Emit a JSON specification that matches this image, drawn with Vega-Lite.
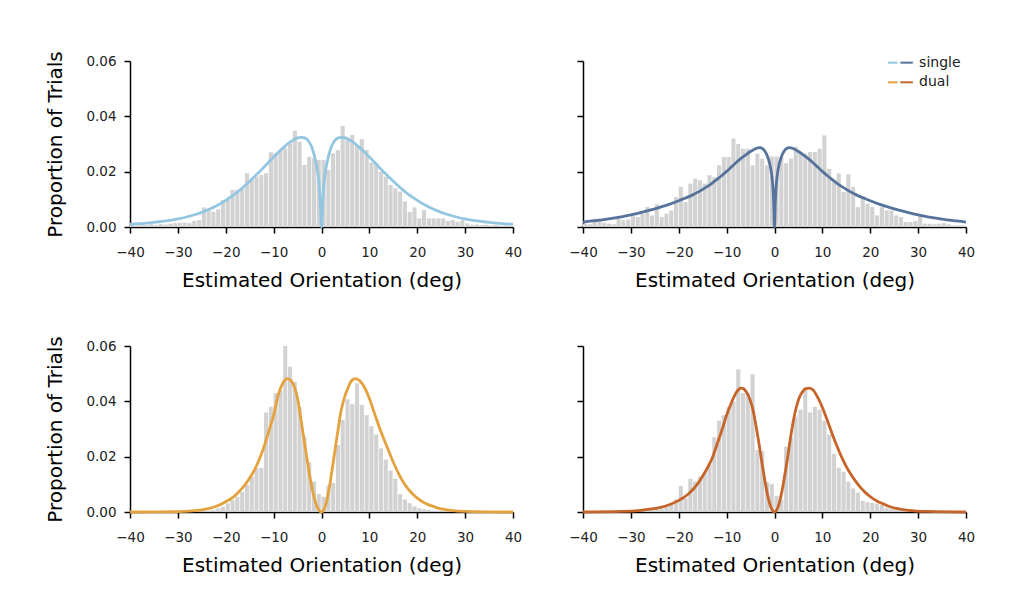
{
  "$schema": "https://vega.github.io/schema/vega-lite/v6.json",
  "background": "white",
  "padding": {"left": 45, "top": 50, "right": 0, "bottom": 0},
  "config": {
    "view": {"stroke": null},
    "font": "DejaVu Sans",
    "axis": {"grid": false, "domainColor": "black", "domainWidth": 1.5, "tickColor": "black", "tickWidth": 1.5, "tickSize": 6, "labelFontSize": 13.5, "labelColor": "#222222", "titleFontSize": 20, "titleFontWeight": "normal", "titleColor": "black", "labelFont": "DejaVu Sans", "titleFont": "DejaVu Sans"}
  },
  "datasets": {
    "hist": [
      {"b": -40, "e": -39, "tl": 0.0008, "tr": 0.0012, "bl": 0, "br": 0},
      {"b": -39, "e": -38, "tl": 0.0006, "tr": 0.001, "bl": 0, "br": 0},
      {"b": -38, "e": -37, "tl": 0.0009, "tr": 0.003, "bl": 0, "br": 0},
      {"b": -37, "e": -36, "tl": 0.0007, "tr": 0.0024, "bl": 0, "br": 0},
      {"b": -36, "e": -35, "tl": 0.001, "tr": 0.0015, "bl": 0, "br": 0},
      {"b": -35, "e": -34, "tl": 0.0008, "tr": 0.0012, "bl": 0, "br": 0},
      {"b": -34, "e": -33, "tl": 0.0011, "tr": 0.001, "bl": 0, "br": 0},
      {"b": -33, "e": -32, "tl": 0.0009, "tr": 0.003, "bl": 0, "br": 0},
      {"b": -32, "e": -31, "tl": 0.0012, "tr": 0.0024, "bl": 0, "br": 0},
      {"b": -31, "e": -30, "tl": 0.0014, "tr": 0.0027, "bl": 0, "br": 0},
      {"b": -30, "e": -29, "tl": 0.0015, "tr": 0.0039, "bl": 0, "br": 0},
      {"b": -29, "e": -28, "tl": 0.0016, "tr": 0.0036, "bl": 0, "br": 0},
      {"b": -28, "e": -27, "tl": 0.0014, "tr": 0.0048, "bl": 0, "br": 0},
      {"b": -27, "e": -26, "tl": 0.0023, "tr": 0.0072, "bl": 0, "br": 0.0005},
      {"b": -26, "e": -25, "tl": 0.0025, "tr": 0.0042, "bl": 0.0003, "br": 0.0015},
      {"b": -25, "e": -24, "tl": 0.0071, "tr": 0.0082, "bl": 0.0004, "br": 0.0015},
      {"b": -24, "e": -23, "tl": 0.006, "tr": 0.0036, "bl": 0.0005, "br": 0.0012},
      {"b": -23, "e": -22, "tl": 0.0055, "tr": 0.0048, "bl": 0.0007, "br": 0.002},
      {"b": -22, "e": -21, "tl": 0.0064, "tr": 0.006, "bl": 0.0013, "br": 0.0028},
      {"b": -21, "e": -20, "tl": 0.0098, "tr": 0.0108, "bl": 0.0019, "br": 0.0045},
      {"b": -20, "e": -19, "tl": 0.0098, "tr": 0.0145, "bl": 0.0031, "br": 0.0094},
      {"b": -19, "e": -18, "tl": 0.0134, "tr": 0.009, "bl": 0.0043, "br": 0.005},
      {"b": -18, "e": -17, "tl": 0.0134, "tr": 0.0157, "bl": 0.0055, "br": 0.012},
      {"b": -17, "e": -16, "tl": 0.014, "tr": 0.0175, "bl": 0.0073, "br": 0.011},
      {"b": -16, "e": -15, "tl": 0.0194, "tr": 0.0169, "bl": 0.0098, "br": 0.0128},
      {"b": -15, "e": -14, "tl": 0.017, "tr": 0.0157, "bl": 0.0128, "br": 0.0142},
      {"b": -14, "e": -13, "tl": 0.0182, "tr": 0.0187, "bl": 0.0158, "br": 0.0176},
      {"b": -13, "e": -12, "tl": 0.0188, "tr": 0.018, "bl": 0.016, "br": 0.027},
      {"b": -12, "e": -11, "tl": 0.0194, "tr": 0.0223, "bl": 0.036, "br": 0.033},
      {"b": -11, "e": -10, "tl": 0.027, "tr": 0.0253, "bl": 0.038, "br": 0.035},
      {"b": -10, "e": -9, "tl": 0.0266, "tr": 0.0253, "bl": 0.043, "br": 0.038},
      {"b": -9, "e": -8, "tl": 0.0278, "tr": 0.032, "bl": 0.044, "br": 0.04},
      {"b": -8, "e": -7, "tl": 0.0284, "tr": 0.03, "bl": 0.06, "br": 0.0516},
      {"b": -7, "e": -6, "tl": 0.0302, "tr": 0.0283, "bl": 0.0525, "br": 0.043},
      {"b": -6, "e": -5, "tl": 0.0348, "tr": 0.0283, "bl": 0.047, "br": 0.043},
      {"b": -5, "e": -4, "tl": 0.0308, "tr": 0.0223, "bl": 0.038, "br": 0.0498},
      {"b": -4, "e": -3, "tl": 0.0224, "tr": 0.0265, "bl": 0.0272, "br": 0.0224},
      {"b": -3, "e": -2, "tl": 0.0254, "tr": 0.0247, "bl": 0.018, "br": 0.022},
      {"b": -2, "e": -1, "tl": 0.0248, "tr": 0.0223, "bl": 0.011, "br": 0.0108},
      {"b": -1, "e": 0, "tl": 0.0242, "tr": 0.0255, "bl": 0.0065, "br": 0.0102},
      {"b": 0, "e": 1, "tl": 0.0242, "tr": 0.0255, "bl": 0.0055, "br": 0.0058},
      {"b": 1, "e": 2, "tl": 0.0206, "tr": 0.0253, "bl": 0.0095, "br": 0.0045},
      {"b": 2, "e": 3, "tl": 0.0266, "tr": 0.0231, "bl": 0.0105, "br": 0.0236},
      {"b": 3, "e": 4, "tl": 0.0278, "tr": 0.0247, "bl": 0.0242, "br": 0.027},
      {"b": 4, "e": 5, "tl": 0.0365, "tr": 0.029, "bl": 0.0333, "br": 0.0345},
      {"b": 5, "e": 6, "tl": 0.0314, "tr": 0.0271, "bl": 0.0407, "br": 0.037},
      {"b": 6, "e": 7, "tl": 0.0333, "tr": 0.0265, "bl": 0.039, "br": 0.0445},
      {"b": 7, "e": 8, "tl": 0.0296, "tr": 0.0271, "bl": 0.0465, "br": 0.036},
      {"b": 8, "e": 9, "tl": 0.0317, "tr": 0.0271, "bl": 0.0387, "br": 0.038},
      {"b": 9, "e": 10, "tl": 0.0278, "tr": 0.0283, "bl": 0.035, "br": 0.037},
      {"b": 10, "e": 11, "tl": 0.0233, "tr": 0.0331, "bl": 0.031, "br": 0.033},
      {"b": 11, "e": 12, "tl": 0.023, "tr": 0.021, "bl": 0.028, "br": 0.028},
      {"b": 12, "e": 13, "tl": 0.02, "tr": 0.0169, "bl": 0.023, "br": 0.021},
      {"b": 13, "e": 14, "tl": 0.0182, "tr": 0.0193, "bl": 0.019, "br": 0.016},
      {"b": 14, "e": 15, "tl": 0.0152, "tr": 0.0127, "bl": 0.015, "br": 0.0145},
      {"b": 15, "e": 16, "tl": 0.014, "tr": 0.019, "bl": 0.012, "br": 0.011},
      {"b": 16, "e": 17, "tl": 0.0128, "tr": 0.0145, "bl": 0.0065, "br": 0.0085},
      {"b": 17, "e": 18, "tl": 0.0092, "tr": 0.0072, "bl": 0.0045, "br": 0.007},
      {"b": 18, "e": 19, "tl": 0.0055, "tr": 0.0108, "bl": 0.0032, "br": 0.004},
      {"b": 19, "e": 20, "tl": 0.0071, "tr": 0.0084, "bl": 0.002, "br": 0.0035},
      {"b": 20, "e": 21, "tl": 0.0031, "tr": 0.0072, "bl": 0.0013, "br": 0.0033},
      {"b": 21, "e": 22, "tl": 0.0061, "tr": 0.0042, "bl": 0.001, "br": 0.003},
      {"b": 22, "e": 23, "tl": 0.0031, "tr": 0.0072, "bl": 0.0008, "br": 0.0025},
      {"b": 23, "e": 24, "tl": 0.0031, "tr": 0.006, "bl": 0.0005, "br": 0.0015},
      {"b": 24, "e": 25, "tl": 0.0031, "tr": 0.006, "bl": 0.0004, "br": 0.0012},
      {"b": 25, "e": 26, "tl": 0.0031, "tr": 0.0042, "bl": 0.0003, "br": 0.0008},
      {"b": 26, "e": 27, "tl": 0.0022, "tr": 0.0036, "bl": 0.0002, "br": 0.0007},
      {"b": 27, "e": 28, "tl": 0.0025, "tr": 0.0018, "bl": 0.0006, "br": 0.0006},
      {"b": 28, "e": 29, "tl": 0.0019, "tr": 0.0018, "bl": 0, "br": 0.0004},
      {"b": 29, "e": 30, "tl": 0.0025, "tr": 0.0022, "bl": 0, "br": 0.0003},
      {"b": 30, "e": 31, "tl": 0.0013, "tr": 0.004, "bl": 0, "br": 0.0002},
      {"b": 31, "e": 32, "tl": 0.0008, "tr": 0.0012, "bl": 0, "br": 0},
      {"b": 32, "e": 33, "tl": 0.0009, "tr": 0.0012, "bl": 0, "br": 0},
      {"b": 33, "e": 34, "tl": 0.0007, "tr": 0.001, "bl": 0, "br": 0},
      {"b": 34, "e": 35, "tl": 0.0008, "tr": 0.0012, "bl": 0, "br": 0},
      {"b": 35, "e": 36, "tl": 0.0006, "tr": 0.0014, "bl": 0, "br": 0},
      {"b": 36, "e": 37, "tl": 0.0007, "tr": 0.001, "bl": 0, "br": 0},
      {"b": 37, "e": 38, "tl": 0.0005, "tr": 0.0006, "bl": 0, "br": 0},
      {"b": 38, "e": 39, "tl": 0.0006, "tr": 0.0006, "bl": 0, "br": 0},
      {"b": 39, "e": 40, "tl": 0.0004, "tr": 0.0006, "bl": 0, "br": 0}
    ],
    "c_tl": [
      {"x": -40, "y": 0.001}, {"x": -38, "y": 0.0012}, {"x": -36, "y": 0.0015}, {"x": -34, "y": 0.0019}, {"x": -32, "y": 0.0023}, {"x": -30, "y": 0.0029}, {"x": -28, "y": 0.0037}, {"x": -26, "y": 0.0047}, {"x": -24, "y": 0.006}, {"x": -22, "y": 0.0076}, {"x": -20, "y": 0.0096}, {"x": -19, "y": 0.0108}, {"x": -18, "y": 0.012}, {"x": -17, "y": 0.0134}, {"x": -16, "y": 0.0149}, {"x": -15, "y": 0.0165}, {"x": -14, "y": 0.0182}, {"x": -13, "y": 0.0199}, {"x": -12, "y": 0.0217}, {"x": -11, "y": 0.0235}, {"x": -10, "y": 0.0253}, {"x": -9, "y": 0.027}, {"x": -8, "y": 0.0286}, {"x": -7, "y": 0.0301}, {"x": -6, "y": 0.0313}, {"x": -5, "y": 0.0322}, {"x": -4.2, "y": 0.0324}, {"x": -3.5, "y": 0.0322}, {"x": -3, "y": 0.0316}, {"x": -2.5, "y": 0.0305}, {"x": -2, "y": 0.0287}, {"x": -1.5, "y": 0.0258}, {"x": -1, "y": 0.0218}, {"x": -0.5, "y": 0.0155}, {"x": -0.25, "y": 0.009}, {"x": 0, "y": 0},
      {"x": 0.25, "y": 0.009}, {"x": 0.5, "y": 0.0155}, {"x": 1, "y": 0.0218}, {"x": 1.5, "y": 0.0258}, {"x": 2, "y": 0.0287}, {"x": 2.5, "y": 0.0305}, {"x": 3, "y": 0.0316}, {"x": 3.5, "y": 0.0322}, {"x": 4.2, "y": 0.0324}, {"x": 5, "y": 0.0322}, {"x": 6, "y": 0.0313}, {"x": 7, "y": 0.0301}, {"x": 8, "y": 0.0286}, {"x": 9, "y": 0.027}, {"x": 10, "y": 0.0253}, {"x": 11, "y": 0.0235}, {"x": 12, "y": 0.0217}, {"x": 13, "y": 0.0199}, {"x": 14, "y": 0.0182}, {"x": 15, "y": 0.0165}, {"x": 16, "y": 0.0149}, {"x": 17, "y": 0.0134}, {"x": 18, "y": 0.012}, {"x": 19, "y": 0.0108}, {"x": 20, "y": 0.0096}, {"x": 22, "y": 0.0076}, {"x": 24, "y": 0.006}, {"x": 26, "y": 0.0047}, {"x": 28, "y": 0.0037}, {"x": 30, "y": 0.0029}, {"x": 32, "y": 0.0023}, {"x": 34, "y": 0.0019}, {"x": 36, "y": 0.0015}, {"x": 38, "y": 0.0012}, {"x": 40, "y": 0.001}
    ],
    "c_tr": [
      {"x": -40, "y": 0.0018}, {"x": -38, "y": 0.0022}, {"x": -36, "y": 0.0026}, {"x": -34, "y": 0.0031}, {"x": -32, "y": 0.0037}, {"x": -30, "y": 0.0044}, {"x": -28, "y": 0.0052}, {"x": -26, "y": 0.0061}, {"x": -24, "y": 0.0071}, {"x": -22, "y": 0.0082}, {"x": -20, "y": 0.0095}, {"x": -19, "y": 0.0102}, {"x": -18, "y": 0.0109}, {"x": -17, "y": 0.0117}, {"x": -16, "y": 0.0126}, {"x": -15, "y": 0.0136}, {"x": -14, "y": 0.0147}, {"x": -13, "y": 0.0159}, {"x": -12, "y": 0.0172}, {"x": -11, "y": 0.0186}, {"x": -10, "y": 0.0201}, {"x": -9, "y": 0.0217}, {"x": -8, "y": 0.0233}, {"x": -7, "y": 0.0248}, {"x": -6, "y": 0.0261}, {"x": -5, "y": 0.0273}, {"x": -4, "y": 0.0283}, {"x": -3, "y": 0.0287}, {"x": -2.5, "y": 0.0283}, {"x": -2, "y": 0.0274}, {"x": -1.5, "y": 0.0257}, {"x": -1, "y": 0.0228}, {"x": -0.6, "y": 0.019}, {"x": -0.3, "y": 0.0135}, {"x": -0.15, "y": 0.008}, {"x": 0, "y": 0},
      {"x": 0.15, "y": 0.008}, {"x": 0.3, "y": 0.0135}, {"x": 0.6, "y": 0.019}, {"x": 1, "y": 0.0228}, {"x": 1.5, "y": 0.0257}, {"x": 2, "y": 0.0274}, {"x": 2.5, "y": 0.0283}, {"x": 3, "y": 0.0287}, {"x": 4, "y": 0.0283}, {"x": 5, "y": 0.0273}, {"x": 6, "y": 0.0261}, {"x": 7, "y": 0.0248}, {"x": 8, "y": 0.0233}, {"x": 9, "y": 0.0217}, {"x": 10, "y": 0.0201}, {"x": 11, "y": 0.0186}, {"x": 12, "y": 0.0172}, {"x": 13, "y": 0.0159}, {"x": 14, "y": 0.0147}, {"x": 15, "y": 0.0136}, {"x": 16, "y": 0.0126}, {"x": 17, "y": 0.0117}, {"x": 18, "y": 0.0109}, {"x": 19, "y": 0.0102}, {"x": 20, "y": 0.0095}, {"x": 22, "y": 0.0082}, {"x": 24, "y": 0.0071}, {"x": 26, "y": 0.0061}, {"x": 28, "y": 0.0052}, {"x": 30, "y": 0.0044}, {"x": 32, "y": 0.0037}, {"x": 34, "y": 0.0031}, {"x": 36, "y": 0.0026}, {"x": 38, "y": 0.0022}, {"x": 40, "y": 0.0018}
    ],
    "c_bl": [
      {"x": -40, "y": 0}, {"x": -35, "y": 0.00003}, {"x": -30, "y": 0.0001}, {"x": -27, "y": 0.0004}, {"x": -25, "y": 0.0008}, {"x": -24, "y": 0.0011}, {"x": -23, "y": 0.0015}, {"x": -22, "y": 0.0021}, {"x": -21, "y": 0.0028}, {"x": -20, "y": 0.0037}, {"x": -19, "y": 0.0047}, {"x": -18, "y": 0.006}, {"x": -17, "y": 0.0078}, {"x": -16, "y": 0.0098}, {"x": -15, "y": 0.0123}, {"x": -14, "y": 0.0152}, {"x": -13, "y": 0.019}, {"x": -12, "y": 0.0237}, {"x": -11, "y": 0.0292}, {"x": -10, "y": 0.035}, {"x": -9, "y": 0.0425}, {"x": -8, "y": 0.0468}, {"x": -7.2, "y": 0.0482}, {"x": -6.5, "y": 0.0477}, {"x": -6, "y": 0.0465}, {"x": -5.5, "y": 0.0443}, {"x": -5, "y": 0.041}, {"x": -4.5, "y": 0.0358}, {"x": -4, "y": 0.0302}, {"x": -3.5, "y": 0.0245}, {"x": -3, "y": 0.019}, {"x": -2.5, "y": 0.0135}, {"x": -2, "y": 0.0088}, {"x": -1.5, "y": 0.005}, {"x": -1, "y": 0.0022}, {"x": -0.5, "y": 0.0006}, {"x": 0, "y": 0},
      {"x": 0.5, "y": 0.0008}, {"x": 1, "y": 0.0035}, {"x": 1.5, "y": 0.0075}, {"x": 2, "y": 0.0128}, {"x": 2.5, "y": 0.0185}, {"x": 3, "y": 0.0245}, {"x": 3.5, "y": 0.0302}, {"x": 4, "y": 0.0358}, {"x": 4.5, "y": 0.0395}, {"x": 5, "y": 0.0425}, {"x": 5.5, "y": 0.0447}, {"x": 6, "y": 0.0467}, {"x": 6.5, "y": 0.0478}, {"x": 7.2, "y": 0.0482}, {"x": 8, "y": 0.0474}, {"x": 9, "y": 0.045}, {"x": 10, "y": 0.041}, {"x": 11, "y": 0.036}, {"x": 12, "y": 0.031}, {"x": 13, "y": 0.0265}, {"x": 14, "y": 0.0222}, {"x": 15, "y": 0.018}, {"x": 16, "y": 0.0142}, {"x": 17, "y": 0.011}, {"x": 18, "y": 0.0085}, {"x": 19, "y": 0.0066}, {"x": 20, "y": 0.005}, {"x": 21, "y": 0.0038}, {"x": 22, "y": 0.0029}, {"x": 23, "y": 0.0022}, {"x": 24, "y": 0.0016}, {"x": 25, "y": 0.0011}, {"x": 27, "y": 0.0006}, {"x": 30, "y": 0.0002}, {"x": 35, "y": 0.00005}, {"x": 40, "y": 0}
    ],
    "c_br": [
      {"x": -40, "y": 0}, {"x": -32, "y": 0.0002}, {"x": -28, "y": 0.0006}, {"x": -26, "y": 0.001}, {"x": -24, "y": 0.0016}, {"x": -22, "y": 0.0026}, {"x": -20, "y": 0.0042}, {"x": -19, "y": 0.0052}, {"x": -18, "y": 0.0065}, {"x": -17, "y": 0.0082}, {"x": -16, "y": 0.0103}, {"x": -15, "y": 0.013}, {"x": -14, "y": 0.016}, {"x": -13, "y": 0.0195}, {"x": -12, "y": 0.0245}, {"x": -11, "y": 0.0295}, {"x": -10, "y": 0.035}, {"x": -9, "y": 0.0395}, {"x": -8, "y": 0.0432}, {"x": -7, "y": 0.0448}, {"x": -6.5, "y": 0.0446}, {"x": -6, "y": 0.0437}, {"x": -5.5, "y": 0.0422}, {"x": -5, "y": 0.04}, {"x": -4.5, "y": 0.037}, {"x": -4, "y": 0.0325}, {"x": -3.5, "y": 0.0275}, {"x": -3, "y": 0.022}, {"x": -2.5, "y": 0.0165}, {"x": -2, "y": 0.0112}, {"x": -1.5, "y": 0.0066}, {"x": -1, "y": 0.003}, {"x": -0.5, "y": 0.0008}, {"x": 0, "y": 0},
      {"x": 0.5, "y": 0.0008}, {"x": 1, "y": 0.0032}, {"x": 1.5, "y": 0.007}, {"x": 2, "y": 0.0118}, {"x": 2.5, "y": 0.017}, {"x": 3, "y": 0.0228}, {"x": 3.5, "y": 0.0285}, {"x": 4, "y": 0.0335}, {"x": 4.5, "y": 0.0375}, {"x": 5, "y": 0.0405}, {"x": 5.5, "y": 0.0425}, {"x": 6, "y": 0.0438}, {"x": 6.5, "y": 0.0446}, {"x": 7.2, "y": 0.0448}, {"x": 8, "y": 0.0442}, {"x": 9, "y": 0.0415}, {"x": 10, "y": 0.0378}, {"x": 11, "y": 0.0333}, {"x": 12, "y": 0.0285}, {"x": 13, "y": 0.024}, {"x": 14, "y": 0.0199}, {"x": 15, "y": 0.0164}, {"x": 16, "y": 0.0135}, {"x": 17, "y": 0.011}, {"x": 18, "y": 0.0088}, {"x": 19, "y": 0.007}, {"x": 20, "y": 0.0056}, {"x": 21, "y": 0.0044}, {"x": 22, "y": 0.0034}, {"x": 23, "y": 0.0027}, {"x": 24, "y": 0.002}, {"x": 26, "y": 0.0011}, {"x": 28, "y": 0.0006}, {"x": 32, "y": 0.0002}, {"x": 40, "y": 0}
    ],
    "leg_lines": [
      {"s": "single_a", "x": 23.7, "x2": 25.7, "y": 0.0594},
      {"s": "single_b", "x": 26.3, "x2": 28.9, "y": 0.0594},
      {"s": "dual_a", "x": 23.7, "x2": 25.7, "y": 0.0523},
      {"s": "dual_b", "x": 26.3, "x2": 28.9, "y": 0.0523}
    ],
    "leg_text": [
      {"t": "single", "x": 30.2, "y": 0.0594},
      {"t": "dual", "x": 30.2, "y": 0.0523}
    ]
  },
  "spacing": 44,
  "vconcat": [
    {
      "spacing": 46,
      "hconcat": [
        {
          "width": 383, "height": 166,
          "layer": [
            {
              "data": {"name": "hist"},
              "mark": {"type": "bar", "color": "#d2d2d2", "x2Offset": -0.7},
              "encoding": {
                "x": {"field": "b", "type": "quantitative", "scale": {"domain": [-40, 40], "nice": false}, "axis": {"title": "Estimated Orientation (deg)", "values": [-40, -30, -20, -10, 0, 10, 20, 30, 40], "labelFlush": false, "labelPadding": 12, "titlePadding": 12}},
                "x2": {"field": "e"},
                "y": {"field": "tl", "type": "quantitative", "scale": {"domain": [0, 0.06], "nice": false}, "axis": {"title": "Proportion of Trials", "values": [0, 0.02, 0.04, 0.06], "format": ".2f", "labelPadding": 8, "titlePadding": 20}},
                "y2": {"datum": 0}
              }
            },
            {
              "data": {"name": "c_tl"},
              "mark": {"type": "line", "color": "#93c6e0", "strokeWidth": 2.8, "interpolate": "monotone"},
              "encoding": {
                "x": {"field": "x", "type": "quantitative", "scale": {"domain": [-40, 40], "nice": false}, "axis": {"title": "Estimated Orientation (deg)", "values": [-40, -30, -20, -10, 0, 10, 20, 30, 40], "labelFlush": false, "labelPadding": 12, "titlePadding": 12}},
                "y": {"field": "y", "type": "quantitative", "scale": {"domain": [0, 0.06], "nice": false}, "axis": {"title": "Proportion of Trials", "values": [0, 0.02, 0.04, 0.06], "format": ".2f", "labelPadding": 8, "titlePadding": 20}}
              }
            }
          ]
        },
        {
          "width": 383, "height": 166,
          "layer": [
            {
              "data": {"name": "hist"},
              "mark": {"type": "bar", "color": "#d2d2d2", "x2Offset": -0.7},
              "encoding": {
                "x": {"field": "b", "type": "quantitative", "scale": {"domain": [-40, 40], "nice": false}, "axis": {"title": "Estimated Orientation (deg)", "values": [-40, -30, -20, -10, 0, 10, 20, 30, 40], "labelFlush": false, "labelPadding": 12, "titlePadding": 12}},
                "x2": {"field": "e"},
                "y": {"field": "tr", "type": "quantitative", "scale": {"domain": [0, 0.06], "nice": false}, "axis": {"values": [0, 0.02, 0.04, 0.06], "labels": false, "title": ""}},
                "y2": {"datum": 0}
              }
            },
            {
              "data": {"name": "c_tr"},
              "mark": {"type": "line", "color": "#56739b", "strokeWidth": 2.8, "interpolate": "monotone"},
              "encoding": {
                "x": {"field": "x", "type": "quantitative", "scale": {"domain": [-40, 40], "nice": false}, "axis": {"title": "Estimated Orientation (deg)", "values": [-40, -30, -20, -10, 0, 10, 20, 30, 40], "labelFlush": false, "labelPadding": 12, "titlePadding": 12}},
                "y": {"field": "y", "type": "quantitative", "scale": {"domain": [0, 0.06], "nice": false}, "axis": {"values": [0, 0.02, 0.04, 0.06], "labels": false, "title": ""}}
              }
            },
            {
              "data": {"name": "leg_lines"},
              "mark": {"type": "rule", "strokeWidth": 2},
              "encoding": {
                "x": {"field": "x", "type": "quantitative", "scale": {"domain": [-40, 40], "nice": false}, "axis": {"title": "Estimated Orientation (deg)", "values": [-40, -30, -20, -10, 0, 10, 20, 30, 40], "labelFlush": false, "labelPadding": 12, "titlePadding": 12}},
                "x2": {"field": "x2"},
                "y": {"field": "y", "type": "quantitative", "scale": {"domain": [0, 0.06], "nice": false}, "axis": {"values": [0, 0.02, 0.04, 0.06], "labels": false, "title": ""}},
                "color": {"field": "s", "type": "nominal", "scale": {"domain": ["single_a", "single_b", "dual_a", "dual_b"], "range": ["#93c6e0", "#56739b", "#e4a23e", "#c6642a"]}, "legend": null}
              }
            },
            {
              "data": {"name": "leg_text"},
              "mark": {"type": "text", "align": "left", "baseline": "middle", "fontSize": 14, "font": "DejaVu Sans", "color": "#222222"},
              "encoding": {
                "x": {"field": "x", "type": "quantitative", "scale": {"domain": [-40, 40], "nice": false}, "axis": {"title": "Estimated Orientation (deg)", "values": [-40, -30, -20, -10, 0, 10, 20, 30, 40], "labelFlush": false, "labelPadding": 12, "titlePadding": 12}},
                "y": {"field": "y", "type": "quantitative", "scale": {"domain": [0, 0.06], "nice": false}, "axis": {"values": [0, 0.02, 0.04, 0.06], "labels": false, "title": ""}},
                "text": {"field": "t"}
              }
            }
          ]
        }
      ]
    },
    {
      "spacing": 46,
      "hconcat": [
        {
          "width": 383, "height": 166,
          "layer": [
            {
              "data": {"name": "hist"},
              "mark": {"type": "bar", "color": "#d2d2d2", "x2Offset": -0.7},
              "encoding": {
                "x": {"field": "b", "type": "quantitative", "scale": {"domain": [-40, 40], "nice": false}, "axis": {"title": "Estimated Orientation (deg)", "values": [-40, -30, -20, -10, 0, 10, 20, 30, 40], "labelFlush": false, "labelPadding": 12, "titlePadding": 12}},
                "x2": {"field": "e"},
                "y": {"field": "bl", "type": "quantitative", "scale": {"domain": [0, 0.06], "nice": false}, "axis": {"title": "Proportion of Trials", "values": [0, 0.02, 0.04, 0.06], "format": ".2f", "labelPadding": 8, "titlePadding": 20}},
                "y2": {"datum": 0}
              }
            },
            {
              "data": {"name": "c_bl"},
              "mark": {"type": "line", "color": "#e4a23e", "strokeWidth": 2.8, "interpolate": "monotone"},
              "encoding": {
                "x": {"field": "x", "type": "quantitative", "scale": {"domain": [-40, 40], "nice": false}, "axis": {"title": "Estimated Orientation (deg)", "values": [-40, -30, -20, -10, 0, 10, 20, 30, 40], "labelFlush": false, "labelPadding": 12, "titlePadding": 12}},
                "y": {"field": "y", "type": "quantitative", "scale": {"domain": [0, 0.06], "nice": false}, "axis": {"title": "Proportion of Trials", "values": [0, 0.02, 0.04, 0.06], "format": ".2f", "labelPadding": 8, "titlePadding": 20}}
              }
            }
          ]
        },
        {
          "width": 383, "height": 166,
          "layer": [
            {
              "data": {"name": "hist"},
              "mark": {"type": "bar", "color": "#d2d2d2", "x2Offset": -0.7},
              "encoding": {
                "x": {"field": "b", "type": "quantitative", "scale": {"domain": [-40, 40], "nice": false}, "axis": {"title": "Estimated Orientation (deg)", "values": [-40, -30, -20, -10, 0, 10, 20, 30, 40], "labelFlush": false, "labelPadding": 12, "titlePadding": 12}},
                "x2": {"field": "e"},
                "y": {"field": "br", "type": "quantitative", "scale": {"domain": [0, 0.06], "nice": false}, "axis": {"values": [0, 0.02, 0.04, 0.06], "labels": false, "title": ""}},
                "y2": {"datum": 0}
              }
            },
            {
              "data": {"name": "c_br"},
              "mark": {"type": "line", "color": "#c6642a", "strokeWidth": 2.8, "interpolate": "monotone"},
              "encoding": {
                "x": {"field": "x", "type": "quantitative", "scale": {"domain": [-40, 40], "nice": false}, "axis": {"title": "Estimated Orientation (deg)", "values": [-40, -30, -20, -10, 0, 10, 20, 30, 40], "labelFlush": false, "labelPadding": 12, "titlePadding": 12}},
                "y": {"field": "y", "type": "quantitative", "scale": {"domain": [0, 0.06], "nice": false}, "axis": {"values": [0, 0.02, 0.04, 0.06], "labels": false, "title": ""}}
              }
            }
          ]
        }
      ]
    }
  ]
}
